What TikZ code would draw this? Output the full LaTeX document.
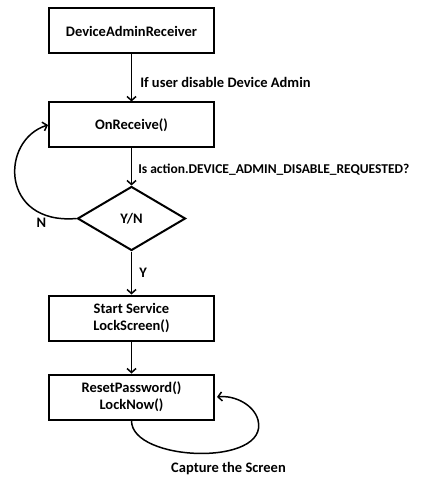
\documentclass[tikz,border=0pt]{standalone}
\usepackage{fontspec}
\setmainfont{Carlito}
\usetikzlibrary{shapes.geometric, arrows.meta, positioning}

\begin{document}
\begin{tikzpicture}[
    every node/.style={font=\fontsize{14.5}{17}\selectfont\bfseries, align=center},
    box/.style={draw, line width=2pt, minimum width=165pt, minimum height=45pt},
    decision/.style={diamond, draw, line width=2pt, aspect=1.67, minimum width=108pt, minimum height=64pt, inner sep=0pt},
    arrow/.style={-{Straight Barb[length=4pt,width=9pt]}, line width=1.5pt},
    lab/.style={inner sep=2pt}
]
\useasboundingbox (0,0) rectangle (427pt,-478pt);

\node[box] (admin) at (131.5pt,-31pt) {DeviceAdminReceiver};
\node[box, below=47pt of admin] (recv) {OnReceive()};
\node[decision, below=37pt of recv] (yn) {Y/N};
\node[box, below=43pt of yn] (start) {Start Service\\LockScreen()};
\node[box, below=32pt of start] (reset) {ResetPassword()\\LockNow()};

\node[lab, below=40pt of reset, xshift=97pt] (capture) {Capture the Screen};
\node[lab] (no) at ([xshift=-35pt,yshift=-4pt]yn.west) {N};

\draw[arrow] (admin) -- node[lab, right, xshift=6pt, yshift=-4pt]{If user disable Device Admin} (recv);
\draw[arrow] (recv) -- node[lab, right, xshift=4pt, yshift=-3pt, font=\fontsize{13.5}{16}\selectfont\bfseries]{Is action.DEVICE\_ADMIN\_DISABLE\_REQUESTED?} (yn);
\draw[arrow] (yn) -- node[lab, right, xshift=5pt]{Y} (start);
\draw[arrow] (start) -- (reset);

\draw[arrow] (yn.west) .. controls (0pt,-225pt) and (0pt,-140pt) .. (recv.west);
\draw[arrow] (reset.south) .. controls (131pt,-462pt) and (270pt,-467pt) .. (258pt,-420pt)
    .. controls (254pt,-405pt) and (235pt,-395pt) .. ([xshift=2pt]reset.east);

\end{tikzpicture}
\end{document}
